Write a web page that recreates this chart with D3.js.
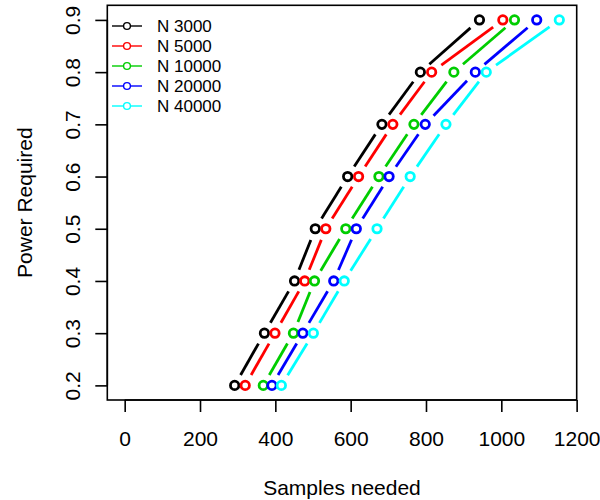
<!DOCTYPE html>
<html>
<head>
<meta charset="utf-8">
<script src="https://cdn.jsdelivr.net/npm/d3@7"></script>
<style>
  html, body { margin: 0; padding: 0; background: #fff; }
  svg { display: block; font-family: "Liberation Sans", Arial, Helvetica, sans-serif; }
</style>
</head>
<body>
<svg id="chart" width="600" height="500"></svg>
<script>
// ---- data ----
const powerLevels = [0.2, 0.3, 0.4, 0.5, 0.6, 0.7, 0.8, 0.9];
const seriesNames = ["N 3000", "N 5000", "N 10000", "N 20000", "N 40000"];
const seriesColors = ["#000000", "#FF0000", "#00CD00", "#0000FF", "#00FFFF"];
const n3000  = [292, 371, 451, 506, 592, 683, 785, 942];
const n5000  = [320, 399, 478, 534, 621, 712, 815, 1004];
const n10000 = [368, 448, 504, 587, 675, 768, 874, 1035];
const n20000 = [391, 473, 555, 615, 702, 798, 931, 1094];
const n40000 = [416, 501, 583, 670, 758, 853, 960, 1154];
const xTicks = [0, 200, 400, 600, 800, 1000, 1200];
const yTicks = [0.2, 0.3, 0.4, 0.5, 0.6, 0.7, 0.8, 0.9];
const xLabel = "Samples needed";
const yLabel = "Power Required";

const seriesValues = [n3000, n5000, n10000, n20000, n40000];

// ---- layout ----
const svg = d3.select("#chart");
const box = { left: 107.3, right: 576.7, top: 5.3, bottom: 400 };

const xMax = d3.max(seriesValues.flat());
const xMin = 0;
const xPad = (xMax - xMin) * 0.04;
const yMin = d3.min(powerLevels), yMaxV = d3.max(powerLevels);
const yPad = (yMaxV - yMin) * 0.04;

const x = d3.scaleLinear().domain([xMin - xPad, xMax + xPad]).range([box.left, box.right]);
const y = d3.scaleLinear().domain([yMin - yPad, yMaxV + yPad]).range([box.bottom, box.top]);

const fontAxis = 21;
const strokeW = 2.8;
const gap = 12;
const r = 4.2;

// series lines (type = "b": segments with gaps around points)
seriesValues.forEach((vals, si) => {
  const g = svg.append("g");
  const pts = vals.map((v, i) => [x(v), y(powerLevels[i])]);
  for (let i = 0; i < pts.length - 1; i++) {
    const [x1, y1] = pts[i], [x2, y2] = pts[i + 1];
    const dx = x2 - x1, dy = y2 - y1, len = Math.hypot(dx, dy);
    if (len <= 2 * gap) continue;
    const ux = dx / len, uy = dy / len;
    g.append("line")
      .attr("x1", x1 + ux * gap).attr("y1", y1 + uy * gap)
      .attr("x2", x2 - ux * gap).attr("y2", y2 - uy * gap)
      .attr("stroke", seriesColors[si]).attr("stroke-width", strokeW);
  }
  g.selectAll("circle").data(vals).enter().append("circle")
    .attr("cx", d => x(d))
    .attr("cy", (d, i) => y(powerLevels[i]))
    .attr("r", r)
    .attr("fill", "none")
    .attr("stroke", seriesColors[si])
    .attr("stroke-width", strokeW);
});

// box
svg.append("rect")
  .attr("x", box.left).attr("y", box.top)
  .attr("width", box.right - box.left).attr("height", box.bottom - box.top)
  .attr("fill", "none").attr("stroke", "#000").attr("stroke-width", 1.6);

// x axis
const xAxis = d3.axisBottom(x).tickValues(xTicks).tickSize(12).tickFormat(d3.format("d"));
const gx = svg.append("g").attr("transform", `translate(0,${box.bottom})`).call(xAxis);
gx.select(".domain").attr("d", `M${x(xTicks[0])},0H${x(xTicks[xTicks.length - 1])}`).attr("stroke-width", 1.6);
gx.selectAll(".tick line").attr("stroke-width", 1.6);
gx.selectAll(".tick text").attr("font-size", fontAxis).attr("font-family", "Liberation Sans, Arial, sans-serif")
  .attr("fill", "#000").attr("dy", null).attr("y", 46);

// y axis
const yAxis = d3.axisLeft(y).tickValues(yTicks).tickSize(12).tickFormat(d3.format(".1f"));
const gy = svg.append("g").attr("transform", `translate(${box.left},0)`).call(yAxis);
gy.select(".domain").attr("d", `M0,${y(yTicks[0])}V${y(yTicks[yTicks.length - 1])}`).attr("stroke-width", 1.6);
gy.selectAll(".tick line").attr("stroke-width", 1.6);
gy.selectAll(".tick text")
  .attr("font-size", fontAxis).attr("font-family", "Liberation Sans, Arial, sans-serif").attr("fill", "#000")
  .attr("x", null).attr("dy", null)
  .attr("text-anchor", "middle")
  .attr("transform", "translate(-27,0) rotate(-90)")
  .attr("y", 0);

// axis titles
svg.append("text").attr("x", (box.left + box.right) / 2).attr("y", 495)
  .attr("text-anchor", "middle").attr("font-size", fontAxis).text(xLabel);
svg.append("text").attr("transform", `translate(32,${(box.top + box.bottom) / 2}) rotate(-90)`)
  .attr("text-anchor", "middle").attr("font-size", fontAxis).text(yLabel);

// legend
const leg = svg.append("g");
seriesNames.forEach((name, i) => {
  const cy = 26 + i * 20;
  leg.append("line").attr("x1", 112).attr("x2", 142).attr("y1", cy).attr("y2", cy)
    .attr("stroke", seriesColors[i]).attr("stroke-width", 1.4);
  leg.append("circle").attr("cx", 127).attr("cy", cy).attr("r", 3.4)
    .attr("fill", "#fff").attr("stroke", seriesColors[i]).attr("stroke-width", 1.4);
  leg.append("text").attr("x", 157).attr("y", cy + 6).attr("font-size", 17).attr("fill", "#000").text(name);
});
</script>
</body>
</html>
